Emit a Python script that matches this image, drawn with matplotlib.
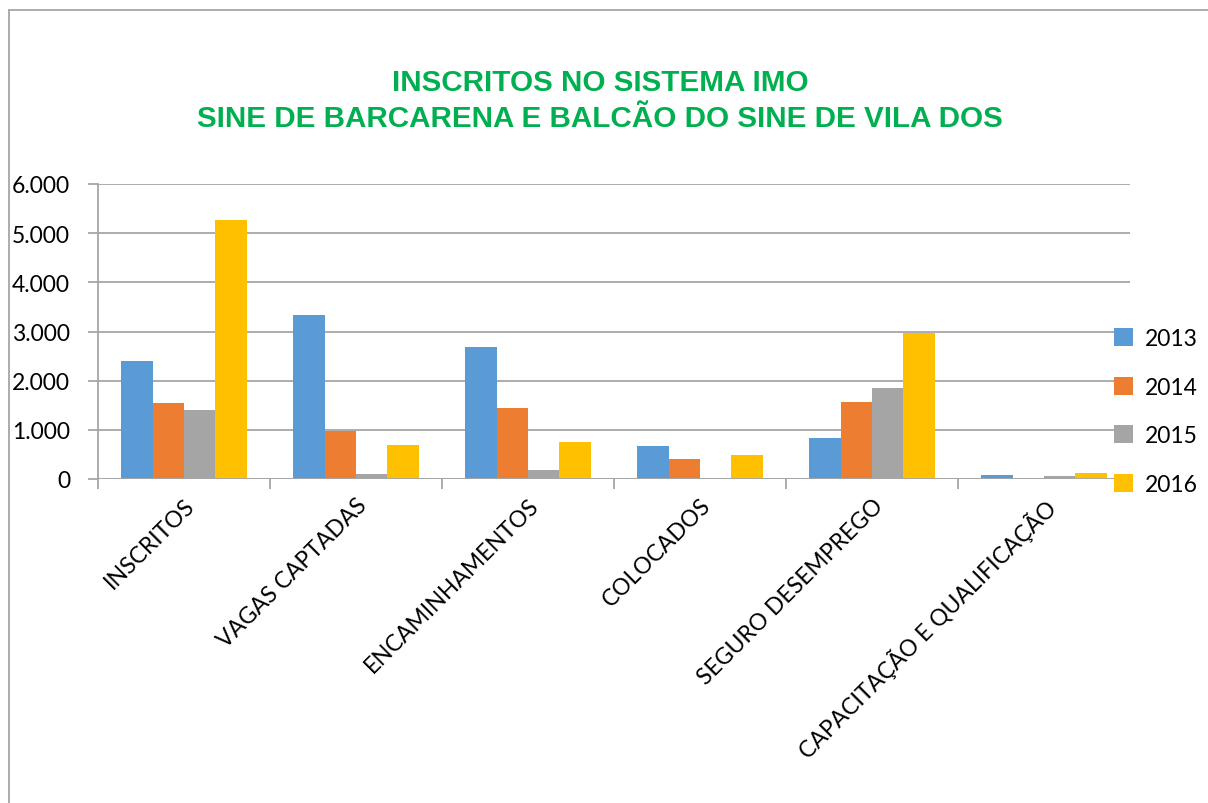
import matplotlib
matplotlib.use("Agg")
import matplotlib.pyplot as plt
import numpy as np
from matplotlib.lines import Line2D
from matplotlib.ticker import FuncFormatter

categories = ["INSCRITOS", "VAGAS CAPTADAS", "ENCAMINHAMENTOS", "COLOCADOS",
              "SEGURO DESEMPREGO", "CAPACITAÇÃO E QUALIFICAÇÃO"]
years = ["2013", "2014", "2015", "2016"]
v2013 = [2390, 3345, 2690, 675, 830, 75]
v2014 = [1540, 985, 1440, 400, 1560, 10]
v2015 = [1410, 108, 190, 0, 1850, 70]
v2016 = [5270, 690, 745, 490, 2960, 130]
series = [v2013, v2014, v2015, v2016]
colors = ["#5B9BD5", "#ED7D31", "#A5A5A5", "#FFC000"]
title = "INSCRITOS NO SISTEMA IMO\nSINE DE BARCARENA E BALCÃO DO SINE DE VILA DOS"

W, H = 1208, 804
fig = plt.figure(figsize=(W / 100, H / 100), dpi=100)
ax = fig.add_axes([98 / W, 1 - 480 / H, (1130 - 98) / W, (480 - 185) / H])

x = np.arange(len(categories))
bw = 0.182
for i, (vals, c, yr) in enumerate(zip(series, colors, years)):
    ax.bar(x + (i - 1.5) * bw, vals, bw, color=c, label=yr, zorder=3)

ax.set_xlim(-0.5, len(categories) - 0.5)
ax.set_ylim(0, 6000)
ax.set_yticks(np.arange(0, 6001, 1000))
ax.yaxis.set_major_formatter(FuncFormatter(lambda v, p: f"{int(v):,}".replace(",", ".")))
ax.grid(axis="y", color="#A6A6A6", linewidth=1.3, zorder=0)
for s in ["top", "right", "bottom"]:
    ax.spines[s].set_visible(False)
ax.spines["left"].set_color("#A6A6A6")
ax.spines["left"].set_linewidth(1.3)
ax.axhline(0, color="#A6A6A6", linewidth=1.3, zorder=4)

fs = 16.5
ax.set_xticks(np.arange(-0.5, len(categories), 1.0), minor=False)
ax.set_xticklabels([])
ax.set_xticks(x, minor=True)
ax.set_xticklabels(categories, minor=True, rotation=45, ha="right", va="top",
                   rotation_mode="anchor", fontsize=fs, family="Lato")
ax.tick_params(axis="x", which="major", length=7, color="#A6A6A6", width=1.3)
ax.tick_params(axis="x", which="minor", length=0, pad=11)
ax.tick_params(axis="y", length=7, color="#A6A6A6", width=1.3, pad=13, labelsize=fs)
for t in ax.get_yticklabels():
    t.set_family("Lato")

fig.text(600 / W, 1 - 101 / H, title, ha="center", va="center", color="#00B050",
         fontsize=21.3, fontweight="bold", family="Liberation Sans", linespacing=1.35)

leg = fig.legend(loc="upper left", bbox_to_anchor=(1114 / W, 1 - 329 / H),
                 frameon=False, prop={"family": "Lato", "size": fs},
                 handlelength=0.85, handleheight=0.85, handletextpad=0.5,
                 labelspacing=1.2, borderpad=0, borderaxespad=0)

fig.add_artist(Line2D([9 / W, 9 / W], [0, 1 - 11 / H], color="#A6A6A6", lw=1.3,
                      transform=fig.transFigure))
fig.add_artist(Line2D([9 / W, 1], [1 - 11 / H, 1 - 11 / H], color="#A6A6A6", lw=1.3,
                      transform=fig.transFigure))

fig.savefig("out.png", dpi=100)
